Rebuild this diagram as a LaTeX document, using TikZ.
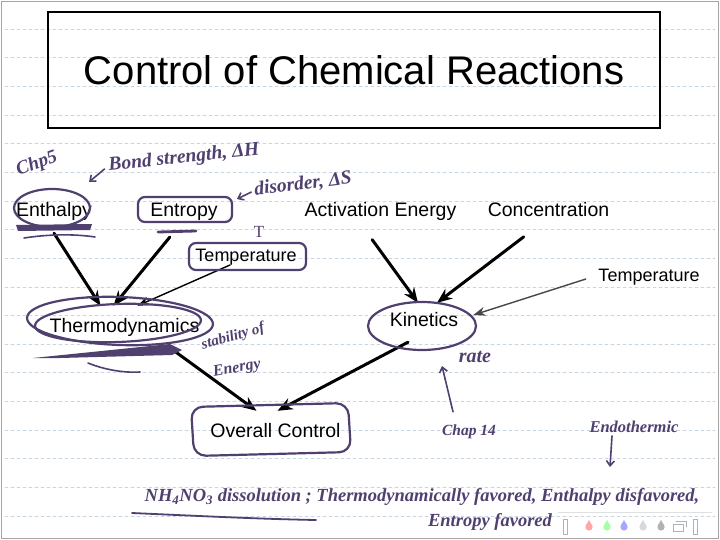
\documentclass[tikz,border=0pt]{standalone}
\usepackage{fontspec}
\setmainfont{Liberation Sans}
\newfontfamily\handfont{Liberation Serif}
\usepackage{xcolor}
\usetikzlibrary{arrows.meta,calc,positioning}
\definecolor{penc}{RGB}{80,64,112}
\definecolor{rulec}{RGB}{200,214,226}
\begin{document}
\begin{tikzpicture}[x=1pt,y=-1pt,line cap=round,
  concept/.style={font=\fontsize{19.5}{22}\selectfont,text height=14pt,text depth=4pt,inner xsep=3pt,inner ysep=12pt,anchor=base},
  smallconcept/.style={concept,font=\fontsize{18}{21}\selectfont},
  arr/.style={line width=3pt,-{Stealth[length=15pt,width=12pt]}},
  thinarr/.style={line width=1.4pt,-{Stealth[length=12pt,width=9pt]}},
  pen/.style={penc,line width=2.2pt,line join=round},
  penarr/.style={penc,line width=1.6pt,-{Straight Barb[length=5pt,width=8pt]}},
  hand/.style={penc,font=\handfont\bfseries\itshape\fontsize{17}{19}\selectfont,inner sep=1pt}]
  \useasboundingbox (0,0) rectangle (720,540);
  \fill[white] (0,0) rectangle (720,540);
  \foreach \k in {0,...,17} \draw[rulec,dashed,line width=0.7pt] (5,29+28.65*\k) -- (715,29+28.65*\k);
  \draw[gray!70,line width=1pt] (1.5,1.5) rectangle (718.5,538.5);
  \node[draw,line width=2pt,minimum width=612pt,minimum height=116pt,font=\fontsize{40}{44}\selectfont] (title) at (354,70) {Control of Chemical Reactions};

  \node[concept] (enth) at (54,217) {Enthalpy};
  \node[concept] (entr) at (184,217) {Entropy};
  \node[concept] (act) at (380.5,217) {Activation Energy};
  \node[concept] (conc) at (548.5,217) {Concentration};
  \node[smallconcept] (tempa) at (246,261) {Temperature};
  \node[smallconcept] (tempb) at (649,281) {Temperature};
  \node[concept] (thermo) at (124.5,332) {Thermodynamics};
  \node[concept] (kin) at (424,326) {Kinetics};
  \node[concept] (over) at (275.5,437) {Overall Control};

  \draw[arr] (enth.south) -- ([xshift=-24pt]thermo.north);
  \draw[arr,shorten <=5pt] ([xshift=-11pt]entr.south) -- ([xshift=-11pt]thermo.north);
  \draw[thinarr] ([xshift=-16pt,yshift=-4pt]tempa.base) -- ([xshift=13pt]thermo.north);
  \draw[arr,shorten <=8pt] ([xshift=-13pt]act.south) -- ([xshift=-6pt,yshift=-3pt]kin.north);
  \draw[arr,shorten <=6pt] ([xshift=-20pt]conc.south) -- ([xshift=13pt,yshift=-3pt]kin.north);
  \draw[thinarr,black!72,shorten <=10pt] (tempb.west) -- ([xshift=12pt,yshift=6pt]kin.east);
  \draw[arr,shorten <=3pt] ([xshift=46pt]thermo.south) -- ([xshift=-19pt]over.north);
  \draw[arr] ([xshift=-16pt]kin.south) -- ([xshift=2pt]over.north);

  \draw[pen] (52,208) ellipse [x radius=38,y radius=19];
  \fill[penc] (16,225) -- (92,224) -- (90,230) -- (18,231) -- cycle;
  \draw[pen,line width=1.6pt] (24,238) .. controls (50,234) and (75,234) .. (95,237);
  \draw[pen,rounded corners=7pt] (138,197) rectangle (232,222);
  \draw[pen,line width=2.8pt] (158,232) -- (196,231);
  \draw[pen,rounded corners=7pt] (189,243) rectangle (306,270);
  \draw[pen,rotate around={-2:(120,321)}] (120,321) ellipse [x radius=93,y radius=24];
  \draw[pen,rotate around={2:(118,323)}] (118,323) ellipse [x radius=83,y radius=19];
  \fill[penc] (33,358) -- (170,344) -- (182,350) -- (172,355) -- (60,358) -- cycle;
  \draw[pen,line width=1.6pt] (88,363) .. controls (105,370) and (125,373) .. (140,372);
  \draw[pen] (422,326) ellipse [x radius=54,y radius=24];
  \draw[pen,rounded corners=12pt] (191,407) -- (348,403) -- (351,452) -- (194,456) -- cycle;

  \node[hand,rotate=20,font=\handfont\bfseries\itshape\fontsize{19}{21}\selectfont] (chp) at (37,164) {Chp5};
  \node[hand,rotate=6,font=\handfont\bfseries\itshape\fontsize{19.5}{21}\selectfont] (bond) at (184,158) {Bond strength, ΔH};
  \coordinate (bondtip) at (89,182);
  \draw[penarr] ([shift={(-3,3)}]bond.west) -- (bondtip);
  \node[hand,rotate=7,font=\handfont\bfseries\itshape\fontsize{19.5}{21}\selectfont] (dis) at (303,184) {disorder, ΔS};
  \coordinate (distip) at (237,199);
  \draw[penarr] ([shift={(-2,2)}]dis.west) -- (distip);
  \node[hand,font=\handfont\fontsize{17}{19}\selectfont] (tee) at (259,232) {T};
  \node[hand,rotate=16,font=\handfont\bfseries\itshape\fontsize{15}{17}\selectfont] (stab) at (233,337) {stability of};
  \node[hand,rotate=10,font=\handfont\bfseries\itshape\fontsize{16}{18}\selectfont] (ener) at (237,369) {Energy};
  \node[hand,font=\handfont\bfseries\itshape\fontsize{20}{22}\selectfont] (rate) at (475,357) {rate};
  \node[hand,font=\handfont\bfseries\itshape\fontsize{15.5}{18}\selectfont] (chap) at (469,432) {Chap 14};
  \coordinate (ratetip) at (442,366);
  \draw[penarr] ([shift={(-16,-12)}]chap.north) -- (ratetip);
  \node[hand,font=\handfont\bfseries\itshape\fontsize{16.5}{19}\selectfont] (endo) at (634,427) {Endothermic};
  \coordinate (endotip) at (610,467);
  \draw[penarr] ([xshift=-22pt,yshift=-2pt]endo.south) -- (endotip);
  \node[hand,font=\handfont\bfseries\itshape\fontsize{18.5}{22}\selectfont] (diss) at (422,497) {NH\textsubscript{4}NO\textsubscript{3} dissolution ; Thermodynamically favored, Enthalpy disfavored,};
  \node[hand,font=\handfont\bfseries\itshape\fontsize{18.5}{22}\selectfont] (favo) at (490,522) {Entropy favored};
  \draw[pen,line width=1.8pt] (132,513) .. controls (200,516) and (260,519) .. (316,520);

  \draw[gray!25,line width=0.8pt] (558,512) -- (712,512);
  \foreach \x/\c in {589/red!35,607/green!35,624/blue!35,643/gray!30,661/gray!60}
    {\fill[\c] (\x,527) circle (3.6); \fill[\c] (\x,520) -- (\x+3.4,526) -- (\x-3.4,526) -- cycle;}
  \draw[gray!60,line width=0.8pt] (563,519) rectangle (567,534);
  \draw[gray!60,line width=0.8pt] (693,519) rectangle (697,534);
  \draw[gray!60,line width=0.8pt] (673,524) rectangle (683,531) (676,521) -- (686,521) -- (686,527);
\end{tikzpicture}
\end{document}
